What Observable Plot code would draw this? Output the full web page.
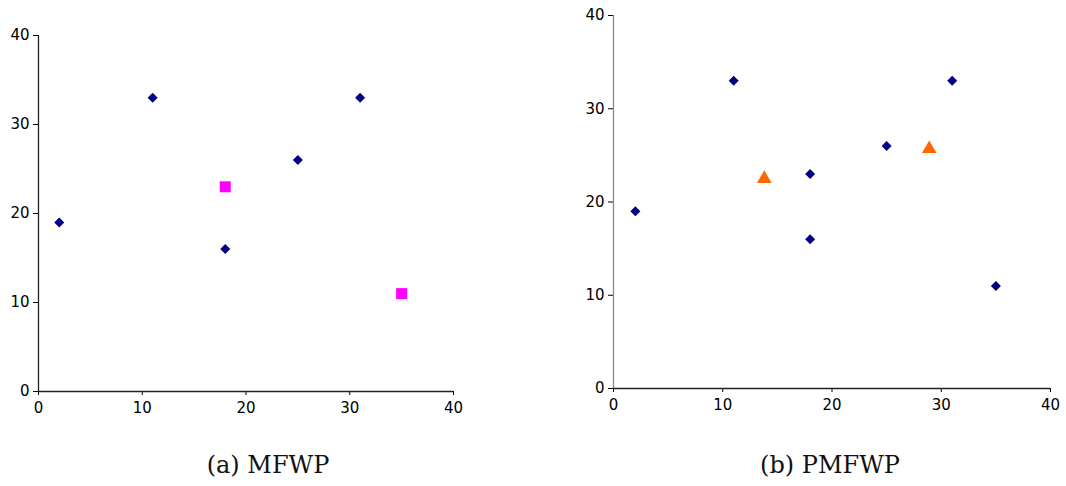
<!DOCTYPE html>
<html><head><meta charset="utf-8">
<script src="https://cdn.jsdelivr.net/npm/d3@7"></script>
<script src="https://cdn.jsdelivr.net/npm/@observablehq/plot@0.6"></script>
<style>
body{margin:0;background:#fff;width:1066px;height:486px;position:relative;overflow:hidden;}
.panel{position:absolute;top:0;}
.panel svg text{font-size:15px !important;font-family:'DejaVu Sans',Verdana,sans-serif !important;fill:#000;}
.cap{position:absolute;top:451px;font-family:"DejaVu Serif","Liberation Serif",serif;font-size:24px;color:#111;transform:translateX(-50%);white-space:nowrap;}
</style></head>
<body>
<div id="a" class="panel" style="left:0"></div>
<div id="b" class="panel" style="left:533px"></div>
<div class="cap" style="left:268px">(a) MFWP</div>
<div class="cap" style="left:830px">(b) PMFWP</div>
<script>
const ticks = [0, 10, 20, 30, 40];
// Panel (a)
const aFacX = [2, 11, 18, 25, 31];
const aFacY = [19, 33, 16, 26, 33];
const aSelX = [18, 35];
const aSelY = [23, 11];
// Panel (b)
const bFacX = [2, 11, 18, 18, 25, 31, 35];
const bFacY = [19, 33, 23, 16, 26, 33, 11];
const bNewX = [13.8, 28.9];
const bNewY = [22.5, 25.7];

const toRows = (xs, ys) => xs.map((x, i) => ({x, y: ys[i]}));
const FONT = "'DejaVu Sans', Verdana, sans-serif";

function panel(opts) {
  return Plot.plot({
    width: 533, height: 420,
    marginLeft: opts.ml, marginRight: opts.mr, marginTop: opts.mt, marginBottom: opts.mb,
    style: `font-family:${FONT};font-size:15px;color:#000;background:#fff;`,
    x: {domain: [0, 40], label: null},
    y: {domain: [0, 40], label: null},
    marks: [
      Plot.axisX({ticks: ticks, tickSize: 4, tickPadding: 7, fontSize: 15, fill: "#000", label: null}),
      Plot.axisY({ticks: ticks, tickSize: 5, tickPadding: 4, fontSize: 15, fill: "#000", label: null}),
      Plot.ruleX([0], {stroke: opts.yAxisColor, strokeWidth: 1.3}),
      Plot.ruleY([0], {stroke: "#222", strokeWidth: 1.3}),
      ...opts.marks
    ]
  });
}

document.getElementById("a").append(panel({
  ml: 38, mr: 80, mt: 35, mb: 29, yAxisColor: "#222",
  marks: [
    Plot.dot(toRows(aFacX, aFacY), {x: "x", y: "y", symbol: "diamond2", r: 4.5, fill: "#000080", stroke: "none"}),
    Plot.dot(toRows(aSelX, aSelY), {x: "x", y: "y", symbol: "square", r: 6.2, fill: "#ff00ff", stroke: "none"})
  ]
}));

document.getElementById("b").append(panel({
  ml: 80, mr: 16, mt: 15, mb: 32, yAxisColor: "#888",
  marks: [
    Plot.dot(toRows(bFacX, bFacY), {x: "x", y: "y", symbol: "diamond2", r: 4.5, fill: "#000080", stroke: "none"}),
    Plot.dot(toRows(bNewX, bNewY), {x: "x", y: "y", symbol: "triangle2", r: 7, fill: "#ff6600", stroke: "none"})
  ]
}));
</script>
</body></html>
